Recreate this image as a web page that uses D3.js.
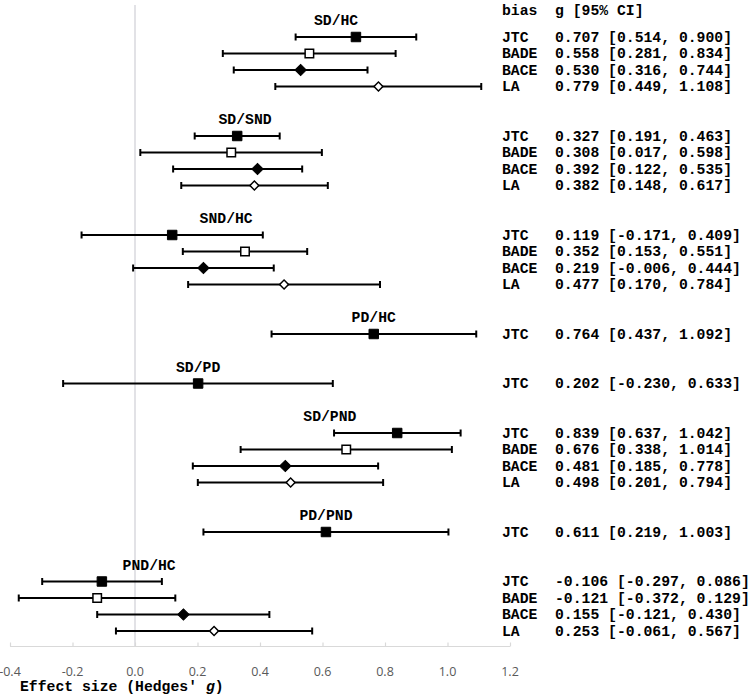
<!DOCTYPE html>
<html>
<head>
<meta charset="utf-8">
<script src="https://cdn.jsdelivr.net/npm/d3@7"></script>
<style>
  html, body { margin: 0; padding: 0; background: #fff; }
  svg { display: block; }
  .mono { font-family: "Courier New", "Liberation Mono", monospace; font-weight: bold; font-size: 14.75px; fill: #000; }
  .tick-label { font-family: "Segoe UI", "Open Sans", "Noto Sans", sans-serif; font-size: 12.5px; fill: #595959; }
</style>
</head>
<body>
<script>
// ---------------- DATA ----------------
const comparisons = ["SD/HC", "SD/SND", "SND/HC", "PD/HC", "SD/PD", "SD/PND", "PD/PND", "PND/HC"];
const biasTypes = ["JTC", "BADE", "BACE", "LA"];

const rowComparison = [
  "SD/HC", "SD/HC", "SD/HC", "SD/HC",
  "SD/SND", "SD/SND", "SD/SND", "SD/SND",
  "SND/HC", "SND/HC", "SND/HC", "SND/HC",
  "PD/HC",
  "SD/PD",
  "SD/PND", "SD/PND", "SD/PND", "SD/PND",
  "PD/PND",
  "PND/HC", "PND/HC", "PND/HC", "PND/HC"
];
const rowBias = [
  "JTC", "BADE", "BACE", "LA",
  "JTC", "BADE", "BACE", "LA",
  "JTC", "BADE", "BACE", "LA",
  "JTC",
  "JTC",
  "JTC", "BADE", "BACE", "LA",
  "JTC",
  "JTC", "BADE", "BACE", "LA"
];
const rowG = [
  0.707, 0.558, 0.530, 0.779,
  0.327, 0.308, 0.392, 0.382,
  0.119, 0.352, 0.219, 0.477,
  0.764,
  0.202,
  0.839, 0.676, 0.481, 0.498,
  0.611,
  -0.106, -0.121, 0.155, 0.253
];
const rowLo = [
  0.514, 0.281, 0.316, 0.449,
  0.191, 0.017, 0.122, 0.148,
  -0.171, 0.153, -0.006, 0.170,
  0.437,
  -0.230,
  0.637, 0.338, 0.185, 0.201,
  0.219,
  -0.297, -0.372, -0.121, -0.061
];
const rowHi = [
  0.900, 0.834, 0.744, 1.108,
  0.463, 0.598, 0.535, 0.617,
  0.409, 0.551, 0.444, 0.784,
  1.092,
  0.633,
  1.042, 1.014, 0.778, 0.794,
  1.003,
  0.086, 0.129, 0.430, 0.567
];
const xTicks = [-0.4, -0.2, 0.0, 0.2, 0.4, 0.6, 0.8, 1.0, 1.2];

// ---------------- LAYOUT ----------------
const W = 750, H = 694;
const svg = d3.select("body").append("svg").attr("width", W).attr("height", H);

const x = d3.scaleLinear().domain([-0.4, 1.2]).range([10, 510]);
const y = d3.scaleLinear().domain([0, 36]).range([37, 631]);
const axisY = 646.5;
const biasX = 502, valueX = 555;

const loc = d3.formatLocale({decimal: ".", thousands: ",", grouping: [3], currency: ["", ""], minus: "-"});
const f3 = loc.format(".3f");
const f1 = loc.format(".1f");

// build slots: label slot then rows, one blank slot between groups
const rows = rowG.map((g, i) => ({comp: rowComparison[i], bias: rowBias[i], g, lo: rowLo[i], hi: rowHi[i]}));
const groupInfo = [];
let s = -1;
comparisons.forEach(c => {
  const gr = rows.filter(r => r.comp === c);
  const labelSlot = s;
  gr.forEach((r, k) => { r.slot = s + 1 + k; });
  groupInfo.push({comp: c, slot: labelSlot, mean: d3.mean(gr, r => r.g)});
  s = s + gr.length + 2;
});

// zero reference line
svg.append("line")
  .attr("x1", x(0)).attr("x2", x(0))
  .attr("y1", 5).attr("y2", axisY)
  .attr("stroke", "#d9d9de").attr("stroke-width", 1.5);

// x axis
const axis = d3.axisTop(x).tickValues(xTicks).tickSize(4).tickFormat("");
const ag = svg.append("g").attr("transform", `translate(0,${axisY})`).call(axis);
ag.select(".domain").attr("stroke", "#d9d9d9").attr("stroke-width", 1.2).attr("d", `M${x(-0.4)},0H${x(1.2)}`);
ag.selectAll(".tick line").attr("stroke", "#d9d9d9").attr("stroke-width", 1.2);

svg.append("g").selectAll("text").data(xTicks).join("text")
  .attr("class", "tick-label")
  .attr("x", d => x(d)).attr("y", 675.5)
  .attr("text-anchor", "middle")
  .text(d => f1(d));

// axis title
const title = svg.append("text").attr("class", "mono").attr("x", 20).attr("y", 690.5);
title.append("tspan").text("Effect size (Hedges' ");
title.append("tspan").attr("font-style", "italic").text("g");
title.append("tspan").text(")");

// header
svg.append("text").attr("class", "mono").attr("x", biasX).attr("y", 14.5).text("bias");
svg.append("text").attr("class", "mono").attr("x", valueX).attr("y", 14.5).text("g [95% CI]");

// group labels
svg.append("g").selectAll("text").data(groupInfo).join("text")
  .attr("class", "mono")
  .attr("x", d => x(d.mean)).attr("y", d => y(d.slot) + 4.5)
  .attr("text-anchor", "middle")
  .text(d => d.comp);

// error bars
const eb = svg.append("g").selectAll("g").data(rows).join("g");
eb.append("line")
  .attr("x1", d => x(d.lo)).attr("x2", d => x(d.hi))
  .attr("y1", d => y(d.slot)).attr("y2", d => y(d.slot))
  .attr("stroke", "#000").attr("stroke-width", 2);
eb.append("line")
  .attr("x1", d => x(d.lo)).attr("x2", d => x(d.lo))
  .attr("y1", d => y(d.slot) - 3.5).attr("y2", d => y(d.slot) + 3.5)
  .attr("stroke", "#000").attr("stroke-width", 2);
eb.append("line")
  .attr("x1", d => x(d.hi)).attr("x2", d => x(d.hi))
  .attr("y1", d => y(d.slot) - 3.5).attr("y2", d => y(d.slot) + 3.5)
  .attr("stroke", "#000").attr("stroke-width", 2);

// markers
const markerStyle = {
  JTC:  {size: 90, rot: 0,  fill: "#000", stroke: "#000", sw: 1},
  BADE: {size: 72, rot: 0,  fill: "#fff", stroke: "#000", sw: 1.5},
  BACE: {size: 64, rot: 45, fill: "#000", stroke: "#000", sw: 1},
  LA:   {size: 40, rot: 45, fill: "#fff", stroke: "#000", sw: 1.5}
};
svg.append("g").selectAll("path").data(rows).join("path")
  .attr("d", d => d3.symbol(d3.symbolSquare, markerStyle[d.bias].size)())
  .attr("transform", d => `translate(${x(d.g)},${y(d.slot)}) rotate(${markerStyle[d.bias].rot})`)
  .attr("fill", d => markerStyle[d.bias].fill)
  .attr("stroke", d => markerStyle[d.bias].stroke)
  .attr("stroke-width", d => markerStyle[d.bias].sw);

// right-hand text columns
svg.append("g").selectAll("text").data(rows).join("text")
  .attr("class", "mono")
  .attr("x", biasX).attr("y", d => y(d.slot) + 4.5)
  .text(d => d.bias);
svg.append("g").selectAll("text").data(rows).join("text")
  .attr("class", "mono")
  .attr("x", valueX).attr("y", d => y(d.slot) + 4.5)
  .attr("xml:space", "preserve")
  .text(d => `${f3(d.g)} [${f3(d.lo)}, ${f3(d.hi)}]`);
</script>
</body>
</html>
